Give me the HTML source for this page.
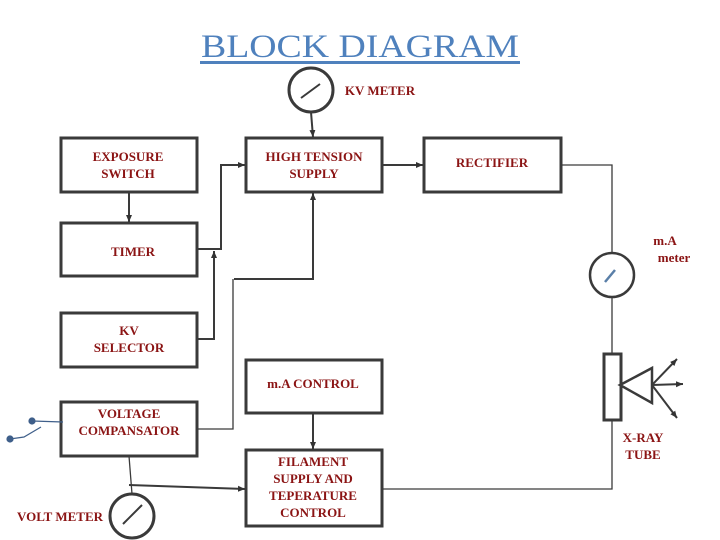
<!DOCTYPE html>
<html><head><style>body{margin:0;background:#fff}svg{display:block}</style></head><body>
<svg width="720" height="540" viewBox="0 0 720 540" xmlns="http://www.w3.org/2000/svg">
<defs><marker id="a" markerWidth="4" markerHeight="4" refX="3.5" refY="2" orient="auto" markerUnits="strokeWidth"><path d="M0,0.5 L3.5,2 L0,3.5z" fill="#333"/></marker></defs>
<text x="360" y="57" text-anchor="middle" font-family="Liberation Serif,serif" font-size="33" fill="#4f81bd" textLength="318" lengthAdjust="spacingAndGlyphs">BLOCK DIAGRAM</text>
<rect x="200" y="61" width="320" height="3" fill="#4f81bd"/>
<g fill="none" stroke="#3a3a3a" stroke-width="3">
<rect x="61" y="138" width="136" height="54"/>
<rect x="246" y="138" width="136" height="54"/>
<rect x="424" y="138" width="137" height="54"/>
<rect x="61" y="223" width="136" height="53"/>
<rect x="61" y="313" width="136" height="54"/>
<rect x="246" y="360" width="136" height="53"/>
<rect x="61" y="402" width="136" height="54"/>
<rect x="246" y="450" width="136" height="76"/>
<rect x="604" y="354" width="17" height="66"/>
<circle cx="311" cy="90" r="22"/>
<circle cx="132" cy="516" r="22"/>
<circle cx="612" cy="275" r="22" stroke-width="2.5"/>
<path d="M620,385 L652,368 L652,403Z" stroke-width="2.5"/>
</g>
<g fill="none" stroke="#3a3a3a" stroke-width="2">
<line x1="301" y1="98" x2="320" y2="84"/>
<line x1="123" y1="524" x2="142" y2="505"/>
<line x1="311" y1="112" x2="313" y2="137" marker-end="url(#a)"/>
<line x1="129" y1="192" x2="129" y2="222" marker-end="url(#a)"/>
<polyline points="197,249 221,249 221,165 245,165" marker-end="url(#a)"/>
<polyline points="197,339 214,339 214,251" marker-end="url(#a)"/>
<polyline points="234,279 313,279 313,193" marker-end="url(#a)"/>
<line x1="382" y1="165" x2="423" y2="165" marker-end="url(#a)"/>
<line x1="313" y1="413" x2="313" y2="449" marker-end="url(#a)"/>
<line x1="129" y1="485" x2="245" y2="489" marker-end="url(#a)"/>
<line x1="652" y1="385" x2="677" y2="359" marker-end="url(#a)"/>
<line x1="652" y1="385" x2="683" y2="384" marker-end="url(#a)"/>
<line x1="652" y1="385" x2="677" y2="418" marker-end="url(#a)"/>
</g>
<g fill="none" stroke="#3a3a3a" stroke-width="1.3">
<polyline points="197,429 233,429 233,279"/>
<line x1="129" y1="456" x2="132" y2="494"/>
<polyline points="561,165 612,165 612,253"/>
<line x1="612" y1="297" x2="612" y2="354"/>
<polyline points="612,420 612,489 382,489"/>
</g>
<line x1="605" y1="282" x2="615" y2="270" stroke="#5a7fa8" stroke-width="2.5"/>
<g stroke="#3f5f8a" stroke-width="1.2" fill="#3f5f8a">
<line x1="32" y1="421" x2="63" y2="422"/>
<polyline points="10,439 24,437 41,427" fill="none"/>
<circle cx="32" cy="421" r="3"/><circle cx="10" cy="439" r="3"/>
</g>
<g font-family="Liberation Serif,serif" font-size="13" font-weight="bold" fill="#8b1414" text-anchor="middle">
<text x="380" y="95">KV METER</text>
<text x="128" y="161">EXPOSURE</text><text x="128" y="178">SWITCH</text>
<text x="314" y="161">HIGH TENSION</text><text x="314" y="178">SUPPLY</text>
<text x="492" y="167">RECTIFIER</text>
<text x="133" y="256">TIMER</text>
<text x="129" y="335">KV</text><text x="129" y="352">SELECTOR</text>
<text x="313" y="388">m.A CONTROL</text>
<text x="129" y="418">VOLTAGE</text><text x="129" y="435">COMPANSATOR</text>
<text x="313" y="466">FILAMENT</text><text x="313" y="483">SUPPLY AND</text><text x="313" y="500">TEPERATURE</text><text x="313" y="517">CONTROL</text>
<text x="60" y="521">VOLT METER</text>
<text x="665" y="245">m.A</text><text x="674" y="262">meter</text>
<text x="643" y="442">X-RAY</text><text x="643" y="459">TUBE</text>
</g>
</svg>
</body></html>
